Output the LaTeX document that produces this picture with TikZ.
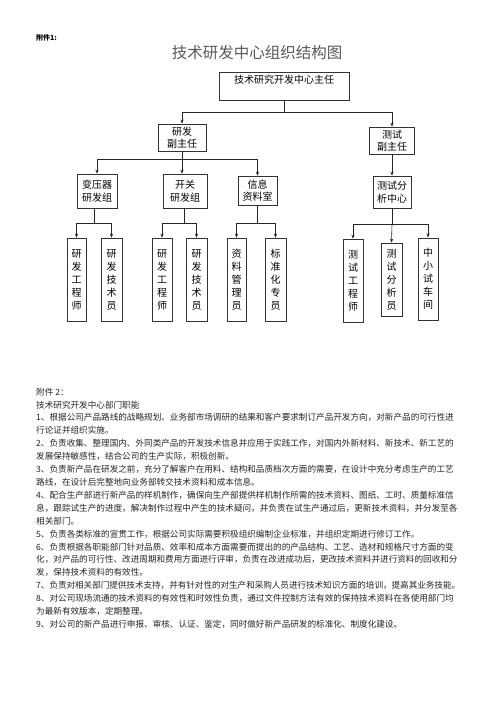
\documentclass[tikz,border=0pt]{standalone}
\usepackage{fontspec}
\newfontfamily\cjk{Noto Sans CJK SC}
\usetikzlibrary{arrows.meta}
\XeTeXlinebreaklocale "zh"
\XeTeXlinebreakskip=0pt plus 1pt minus 0.2pt
\newcommand\bodyfont{\cjk\fontsize{8.6}{10}\selectfont}
\tikzset{
  box/.style={draw=black!80, line width=0.7pt, inner sep=0pt, align=center,
    font=\cjk\fontsize{10}{12.5}\selectfont},
  vbox/.style={box, minimum width=20pt, minimum height=83pt,
    font=\cjk\fontsize{10}{13}\selectfont},
  conn/.style={line width=0.6pt, draw=black!85},
  arr/.style={conn, -{Stealth[length=4pt,width=3.2pt]}},
  fullline/.style={anchor=west, inner sep=0pt, text width=424pt, align=justify,
    font=\bodyfont, text=black!85},
  lastline/.style={anchor=west, inner sep=0pt, font=\bodyfont, text=black!85},
}
\begin{document}
\begin{tikzpicture}[x=1pt, y=-1pt]
\useasboundingbox (0,0) rectangle (496,702);
\fill[white] (0,0) rectangle (496,702);

\node[anchor=west, inner sep=0pt, font=\cjk\bfseries\fontsize{7}{8}\selectfont] (fj1) at (36,38) {附件1:};
\node[inner sep=0pt, font=\cjk\fontsize{15.5}{17}\selectfont, text=black!65] (title) at (257,53) {技术研发中心组织结构图};

% level 0
\node[box, minimum width=130pt, minimum height=28pt,
  label={[anchor=north, inner sep=0pt, yshift=-3pt, font=\cjk\fontsize{10}{12}\selectfont]north:技术研究开发中心主任}] (top) at (284,86) {};
% level 1
\node[box, minimum width=48pt, minimum height=27pt] (rf) at (182,137.5) {研发\\副主任};
\node[box, minimum width=45pt, minimum height=27pt] (cs) at (392,140.5) {测试\\副主任};
% level 2
\node[box, minimum width=40pt, minimum height=34pt] (vb) at (97,191) {变压器\\研发组};
\node[box, minimum width=44pt, minimum height=34pt] (kg) at (185,191) {开关\\研发组};
\node[box, minimum width=39pt, minimum height=29pt] (xx) at (257.5,190.5) {信息\\资料室};
\node[box, minimum width=38pt, minimum height=32pt] (fx) at (392,192) {测试分\\析中心};
% level 3
\node[vbox, minimum width=19pt] (a1) at (76.5,279.5) {研\\发\\工\\程\\师};
\node[vbox, minimum width=21pt] (a2) at (111.5,279.5) {研\\发\\技\\术\\员};
\node[vbox, minimum width=20pt] (b1) at (162,279.5) {研\\发\\工\\程\\师};
\node[vbox, minimum width=21pt] (b2) at (196.5,279.5) {研\\发\\技\\术\\员};
\node[vbox, minimum width=19pt] (c1) at (236.5,279.5) {资\\料\\管\\理\\员};
\node[vbox, minimum width=21pt] (c2) at (275.5,279.5) {标\\准\\化\\专\\员};
\node[vbox, minimum width=20pt] (d1) at (353,280.5) {测\\试\\工\\程\\师};
\node[vbox, minimum width=21pt, minimum height=73pt] (d2) at (391.5,279.5) {测\\试\\分\\析\\员};
\node[vbox, minimum width=20pt, minimum height=82pt, line width=1pt] (d3) at (428,279) {中\\小\\试\\车\\间};

% connectors
\coordinate (j0) at (284,112);
\draw[conn] (top.south) -- (j0);
\draw[arr] (j0) -| (rf.north);
\draw[arr] (j0) -| (cs.north);

\coordinate (j1) at (182,159);
\draw[conn] (rf.south) -- (j1);
\draw[arr] (j1) -| (vb.north);
\draw[arr] (j1) -- (kg.north -| j1);
\draw[arr] (j1) -| (xx.north);

\draw[arr] (cs.south) -- (fx.north);

\coordinate (ja) at (94,223);
\draw[conn] (vb.south -| ja) -- (ja);
\draw[arr] (ja) -| (a1.north);
\draw[arr] (ja) -| (a2.north);

\coordinate (jb) at (184,223);
\draw[conn] (kg.south -| jb) -- (jb);
\draw[arr] (jb) -| (b1.north);
\draw[arr] (jb) -| (b2.north);

\coordinate (jc) at (257,223);
\draw[conn] (xx.south -| jc) -- (jc);
\draw[arr] (jc) -| (c1.north);
\draw[arr] (jc) -| (c2.north);

\coordinate (jd) at (392,224);
\draw[conn] (fx.south) -- (jd);
\draw[arr] (jd) -| (d1.north);
\draw[arr] (jd) -- (d2.north);
\draw[arr] (jd) -| (d3.north);

% body text
\node[lastline] (t0) at (36,392) {附件 2：};
\node[lastline] (t1) at (36,404.9) {技术研究开发中心部门职能};
\node[fullline] (t2) at (36,417.8) {\parfillskip=0pt 1、根据公司产品路线的战略规划、业务部市场调研的结果和客户要求制订产品开发方向，对新产品的可行性进};
\node[lastline] (t3) at (36,430.7) {行论证并组织实施。};
\node[fullline] (t4) at (36,443.6) {\parfillskip=0pt 2、负责收集、整理国内、外同类产品的开发技术信息并应用于实践工作，对国内外新材料、新技术、新工艺的};
\node[lastline] (t5) at (36,456.5) {发展保持敏感性，结合公司的生产实际，积极创新。};
\node[fullline] (t6) at (36,469.4) {\parfillskip=0pt 3、负责新产品在研发之前，充分了解客户在用料、结构和品质档次方面的需要，在设计中充分考虑生产的工艺};
\node[lastline] (t7) at (36,482.3) {路线，在设计后完整地向业务部转交技术资料和成本信息。};
\node[fullline] (t8) at (36,495.2) {\parfillskip=0pt 4、配合生产部进行新产品的样机制作，确保向生产部提供样机制作所需的技术资料、图纸、工时、质量标准信};
\node[fullline] (t9) at (36,508.1) {\parfillskip=0pt 息，跟踪试生产的进度，解决制作过程中产生的技术疑问，并负责在试生产通过后，更新技术资料，并分发至各};
\node[lastline] (t10) at (36,521) {相关部门。};
\node[lastline] (t11) at (36,533.9) {5、负责各类标准的宣贯工作，根据公司实际需要积极组织编制企业标准，并组织定期进行修订工作。};
\node[fullline] (t12) at (36,546.8) {\parfillskip=0pt 6、负责根据各职能部门针对品质、效率和成本方面需要而提出的的产品结构、工艺、选材和规格尺寸方面的变};
\node[fullline] (t13) at (36,559.7) {\parfillskip=0pt 化，对产品的可行性、改进周期和费用方面进行评审，负责在改进成功后，更改技术资料并进行资料的回收和分};
\node[lastline] (t14) at (36,572.6) {发，保持技术资料的有效性。};
\node[fullline] (t15) at (36,585.5) {\parfillskip=0pt 7、负责对相关部门提供技术支持，并有针对性的对生产和采购人员进行技术知识方面的培训，提高其业务技能。};
\node[fullline] (t16) at (36,598.4) {\parfillskip=0pt 8、对公司现场流通的技术资料的有效性和时效性负责，通过文件控制方法有效的保持技术资料在各使用部门均};
\node[lastline] (t17) at (36,611.3) {为最新有效版本，定期整理。};
\node[lastline] (t18) at (36,624.2) {9、对公司的新产品进行申报、审核、认证、鉴定，同时做好新产品研发的标准化、制度化建设。};
\end{tikzpicture}
\end{document}
